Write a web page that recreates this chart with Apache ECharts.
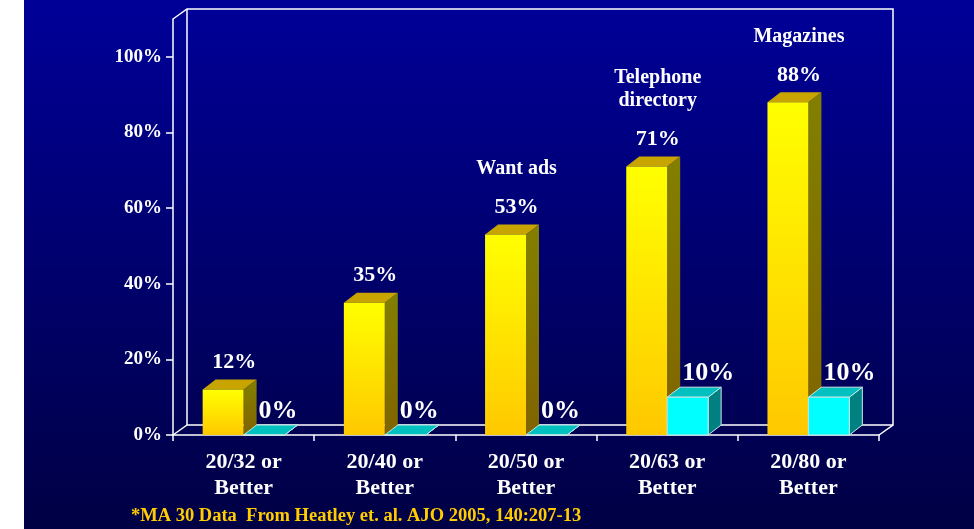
<!DOCTYPE html>
<html>
<head>
<meta charset="utf-8">
<script src="https://cdn.jsdelivr.net/npm/echarts@6/dist/echarts.min.js"></script>
<style>
  html, body { margin: 0; padding: 0; background: #ffffff; }
  #chart { width: 974px; height: 529px; }
</style>
</head>
<body>
<div id="chart"></div>
<script>
// Acuity thresholds and reading tasks
var categories = ['20/32 or\nBetter', '20/40 or\nBetter', '20/50 or\nBetter', '20/63 or\nBetter', '20/80 or\nBetter'];
var mainValues = [12, 35, 53, 71, 88];
var otherValues = [0, 0, 0, 10, 10];
var taskNotes = ['', '', 'Want ads', 'Telephone\ndirectory', 'Magazines'];
var yTicks = [0, 20, 40, 60, 80, 100];
var footnote = '*MA 30 Data  From Heatley et. al. AJO 2005, 140:207-13';

var FONT = '"Liberation Serif", "Times New Roman", serif';
var GRID = { left: 173, right: 95, top: 19, bottom: 94 };
var W = 974, H = 529;
var DX = 13, DY = -10;          // depth offset of the 3D boxes
var WALL_DX = 14, WALL_DY = -10; // depth offset of the back wall
var BAR_RATIO = 0.29;

var palettes = {
  main: {
    front: new echarts.graphic.LinearGradient(0, 0, 0, 1, [
      { offset: 0, color: '#ffff00' }, { offset: 1, color: '#ffc800' }]),
    top: '#c8a400',
    side: new echarts.graphic.LinearGradient(0, 0, 0, 1, [
      { offset: 0, color: '#828000' }, { offset: 1, color: '#806400' }]),
    stroke: null
  },
  other: {
    front: '#00ffff',
    top: '#00c0c0',
    side: '#008080',
    stroke: '#c8e8e8'
  }
};

function makeRenderer(kind) {
  var pal = palettes[kind];
  return function (params, api) {
    var idx = api.value(0);
    var val = api.value(1);
    var base = api.coord([idx, 0]);
    var top = api.coord([idx, val]);
    var catW = api.size([1, 0])[0];
    var w = catW * BAR_RATIO;
    var x0 = kind === 'main' ? base[0] - w : base[0];
    var yt = top[1], yb = base[1];
    var style = function (fill) {
      var s = { fill: fill };
      if (pal.stroke) { s.stroke = pal.stroke; s.lineWidth = 1; }
      return s;
    };
    var children = [
      { type: 'polygon', shape: { points: [[x0 + w, yt], [x0 + w + DX, yt + DY], [x0 + w + DX, yb + DY], [x0 + w, yb]] }, style: style(pal.side) },
      { type: 'polygon', shape: { points: [[x0, yt], [x0 + w, yt], [x0 + w + DX, yt + DY], [x0 + DX, yt + DY]] }, style: style(pal.top) },
      { type: 'rect', shape: { x: x0, y: yt, width: w, height: yb - yt }, style: style(pal.front) }
    ];
    if (kind === 'main') {
      var lx = x0 + w / 2 + 11, ly = yt + DY - 17;
      children.push({ type: 'text', style: { x: lx, y: ly, text: val + '%', fill: '#ffffff', font: 'bold 22px ' + FONT, align: 'center', verticalAlign: 'middle' } });
      var note = taskNotes[idx];
      if (note) {
        children.push({ type: 'text', style: { x: lx, y: ly - 27, text: note, fill: '#ffffff', font: 'bold 20px ' + FONT, align: 'center', verticalAlign: 'bottom', lineHeight: 23 } });
      }
    } else {
      children.push({ type: 'text', style: { x: x0 + 15, y: yt + DY - 14, text: val + '%', fill: '#ffffff', font: 'bold 26px ' + FONT, align: 'left', verticalAlign: 'middle' } });
    }
    return { type: 'group', children: children };
  };
}

// Frame corners derived from the grid box
var gx0 = GRID.left, gx1 = W - GRID.right, gy0 = GRID.top, gy1 = H - GRID.bottom;
var lineStyle = { stroke: '#ffffff', lineWidth: 1.5, fill: null };

var option = {
  animation: false,
  backgroundColor: '#ffffff',
  grid: { left: GRID.left, right: GRID.right, top: GRID.top, bottom: GRID.bottom },
  xAxis: {
    type: 'category',
    data: categories,
    axisLine: { lineStyle: { color: '#ffffff', width: 1.5 } },
    axisTick: { show: true, length: 6, lineStyle: { color: '#ffffff', width: 1.5 } },
    axisLabel: { color: '#ffffff', fontFamily: FONT, fontWeight: 'bold', fontSize: 22, lineHeight: 26, margin: 14 }
  },
  yAxis: {
    type: 'value',
    min: 0,
    max: 110,
    axisLine: { show: true, lineStyle: { color: '#ffffff', width: 1.5 } },
    axisTick: { show: true, length: 7, customValues: yTicks, lineStyle: { color: '#ffffff', width: 1.5 } },
    axisLabel: { customValues: yTicks, formatter: '{value}%', color: '#ffffff', fontFamily: FONT, fontWeight: 'bold', fontSize: 19, margin: 11 },
    splitLine: { show: false }
  },
  graphic: [
    { type: 'rect', z: -10, silent: true, shape: { x: 24, y: 0, width: W - 24, height: H },
      style: { fill: new echarts.graphic.LinearGradient(0, 0, 0, 1, [
        { offset: 0, color: '#000098' }, { offset: 1, color: '#000044' }]) } },
    { type: 'polyline', z: 1, silent: true, shape: { points: [
        [gx0, gy0], [gx0 + WALL_DX, gy0 + WALL_DY], [gx1 + WALL_DX, gy0 + WALL_DY],
        [gx1 + WALL_DX, gy1 + WALL_DY], [gx1, gy1]] }, style: lineStyle },
    { type: 'polyline', z: 1, silent: true, shape: { points: [
        [gx0 + WALL_DX, gy0 + WALL_DY], [gx0 + WALL_DX, gy1 + WALL_DY], [gx1 + WALL_DX, gy1 + WALL_DY]] }, style: lineStyle },
    { type: 'polyline', z: 1, silent: true, shape: { points: [
        [gx0, gy1], [gx0 + WALL_DX, gy1 + WALL_DY]] }, style: lineStyle },
    { type: 'text', z: 5, silent: true, style: { x: 131, y: 516, text: footnote, fill: '#ffcc00',
        font: 'bold 18.5px ' + FONT, verticalAlign: 'middle' } }
  ],
  series: [
    { type: 'custom', name: 'main', z: 3, renderItem: makeRenderer('main'),
      data: mainValues.map(function (v, i) { return [i, v]; }) },
    { type: 'custom', name: 'other', z: 4, renderItem: makeRenderer('other'),
      data: otherValues.map(function (v, i) { return [i, v]; }) }
  ]
};

var chart = echarts.init(document.getElementById('chart'), null, { renderer: 'canvas' });
chart.setOption(option);
</script>
</body>
</html>
